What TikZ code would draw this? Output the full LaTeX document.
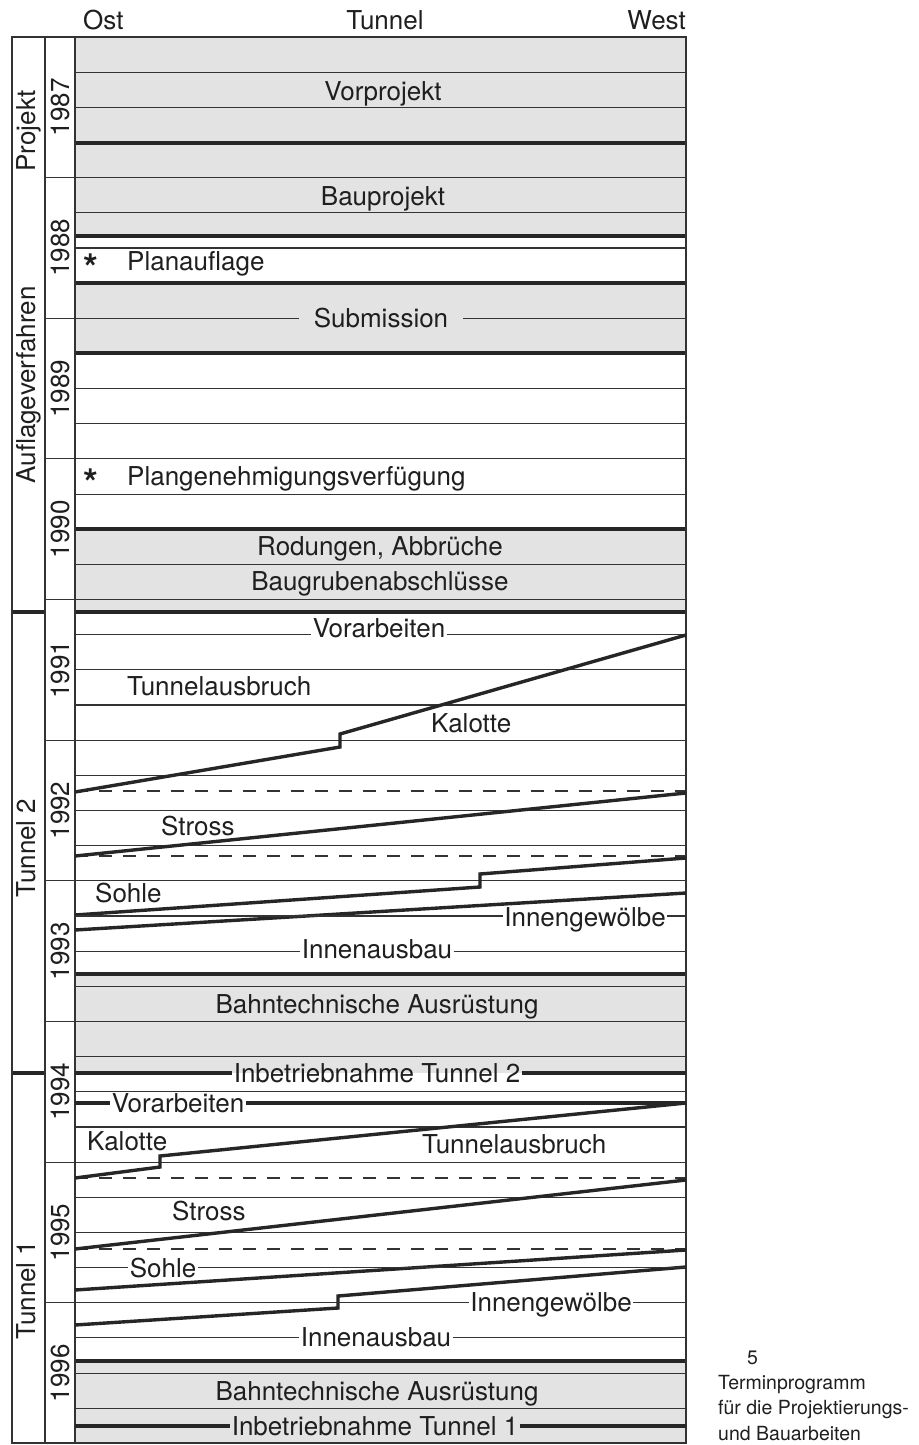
\documentclass[tikz,border=0pt]{standalone}
\usepackage{fontspec}
\setmainfont{TeX Gyre Heros}
\begin{document}
\begin{tikzpicture}[x=1pt,y=-1pt,
  gridline/.style={line width=1.1pt, draw=black!80},
  heavyline/.style={line width=3.4pt, draw=black!85},
  frameline/.style={line width=1.4pt, draw=black!80},
  dashline/.style={line width=1.1pt, draw=black!80, dash pattern=on 13pt off 11pt},
  shade/.style={fill=black!11, draw=none},
  lbl/.style={font=\fontsize{26}{30}\selectfont, text=black!88, inner sep=0pt, anchor=base},
  online/.style={lbl, inner xsep=1.5pt},
  yearlbl/.style={font=\fontsize{26}{30}\selectfont, text=black!88, inner sep=0pt, rotate=90, anchor=center},
  phaselbl/.style={font=\fontsize{26}{30}\selectfont, text=black!88, inner sep=0pt, rotate=90, anchor=base},
  star/.style={font=\fontsize{38}{38}\selectfont\bfseries, text=black!88, inner sep=0pt, anchor=base},
  capt/.style={font=\fontsize{19.5}{22}\selectfont, text=black!88, inner sep=0pt, anchor=base west},
]
\useasboundingbox (0,0) rectangle (918,1445);
\fill[white] (0,0) rectangle (918,1445);
\def\qh{35.16}

% shaded bands
\fill[shade] (75,37) rectangle (686,236);
\fill[shade] (75,283) rectangle (686,353);
\fill[shade] (75,529) rectangle (686,612);
\fill[shade] (75,974) rectangle (686,1073);
\fill[shade] (75,1361) rectangle (686,1443);

% quarter grid lines
\foreach \q in {1,2,4,5,6,10,11,12,13,15,16,18,19,20,21,22,23,24,27,28,29,30,31,32,33,34,38,39}
  \draw[gridline] (75,{37+\q*\qh}) -- (686,{37+\q*\qh});

% heavy lines
\foreach \yy in {143,236,283,353,529,612,974,1361}
  \draw[heavyline] (75,\yy) -- (686,\yy);

% year column separators
\foreach \k in {1,...,9}
  \draw[gridline] (45,{37+\k*4*\qh}) -- (75,{37+\k*4*\qh});

% phase separators
\draw[heavyline] (12,612) -- (45,612);
\draw[heavyline] (12,1073) -- (45,1073);

% frame
\draw[frameline] (12,37) rectangle (686,1443);
\draw[frameline] (45,37) -- (45,1443);
\draw[frameline] (75,37) -- (75,1443);

% header
\node[lbl, anchor=base west] (ost) at (83,30) {Ost};
\node[lbl] (tun) at (385,30) {Tunnel};
\node[lbl, anchor=base east] (west) at (686,30) {West};

% year labels
\foreach \yr [count=\i from 0] in {1987,1988,1989,1990,1991,1992,1993,1994,1995,1996}
  \node[yearlbl] (y\yr) at (60,{37+(\i*4+2)*\qh}) {\yr};

% phase labels
\node[phaselbl] (pProjekt) at (35,131) {Projekt};
\node[phaselbl] (pAuflage) at (35,385) {Auflageverfahren};
\node[phaselbl] (pT2) at (35,848) {Tunnel 2};
\node[phaselbl] (pT1) at (35,1290) {Tunnel 1};

% ---------------- Projekt / Auflage
\node[lbl] (vorprojekt) at (383,100) {Vorprojekt};
\node[lbl] (bauprojekt) at (383,205) {Bauprojekt};
\node[star] (st1) at (91,281) {*};
\node[lbl, anchor=base west] (planauflage) at (127,270) {Planauflage};

\coordinate (subL) at (75,{37+8*\qh});
\coordinate (subR) at (686,{37+8*\qh});
\node[lbl, inner xsep=15pt] (submission) at (381,327) {Submission};
\draw[gridline] (subL) -- (subL -| submission.west);
\draw[gridline] (submission.east |- subR) -- (subR);

\node[star] (st2) at (91,496) {*};
\node[lbl, anchor=base west] (plangen) at (127,485) {Plangenehmigungsverfügung};
\node[lbl] (rodungen) at (380,555) {Rodungen, Abbrüche};
\node[lbl] (baugruben) at (380,590) {Baugrubenabschlüsse};

% ---------------- Tunnel 2
\coordinate (v2L) at (75,{37+17*\qh});
\coordinate (v2R) at (686,{37+17*\qh});
\node[online] (vor2) at (379,637) {Vorarbeiten};
\draw[gridline] (v2L) -- (v2L -| vor2.west);
\draw[gridline] (vor2.east |- v2R) -- (v2R);

\node[lbl, anchor=base west] (ausbruch2) at (127,695) {Tunnelausbruch};
\node[lbl, anchor=base west] (kalotte2) at (431,732) {Kalotte};
\node[lbl, anchor=base west] (stross2) at (161,835) {Stross};
\node[lbl, anchor=base west] (sohle2) at (95,902) {Sohle};

\draw[dashline] (75,791) -- (686,791);
\draw[dashline] (75,856) -- (686,856);

\coordinate (k2a) at (75,792);
\coordinate (k2b) at (340,747);
\coordinate (k2c) at (340,734);
\coordinate (k2d) at (686,635);
\draw[heavyline] (k2a) -- (k2b) -- (k2c) -- (k2d);

\coordinate (s2a) at (75,856);
\coordinate (s2b) at (686,793);
\draw[heavyline] (s2a) -- (s2b);

\coordinate (so2a) at (75,915);
\coordinate (so2b) at (480,887);
\coordinate (so2c) at (480,874);
\coordinate (so2d) at (686,858);
\draw[heavyline] (so2a) -- (so2b) -- (so2c) -- (so2d);

\coordinate (ig2a) at (75,930);
\coordinate (ig2b) at (686,893);
\draw[heavyline] (ig2a) -- (ig2b);

\coordinate (g2L) at (75,{37+25*\qh});
\coordinate (g2R) at (686,{37+25*\qh});
\node[online] (innengew2) at (585,926) {Innengewölbe};
\draw[gridline] (g2L) -- (g2L -| innengew2.west);
\draw[gridline] (innengew2.east |- g2R) -- (g2R);

\coordinate (a2L) at (75,{37+26*\qh});
\coordinate (a2R) at (686,{37+26*\qh});
\node[online] (innenaus2) at (377,958) {Innenausbau};
\draw[gridline] (a2L) -- (a2L -| innenaus2.west);
\draw[gridline] (innenaus2.east |- a2R) -- (a2R);

\node[lbl] (bahn2) at (377,1013) {Bahntechnische Ausrüstung};

\coordinate (i2L) at (75,1073);
\coordinate (i2R) at (686,1073);
\node[online] (inbetr2) at (377,1082) {Inbetriebnahme Tunnel 2};
\draw[heavyline] (i2L) -- (i2L -| inbetr2.west);
\draw[heavyline] (inbetr2.east |- i2R) -- (i2R);

% ---------------- Tunnel 1
\coordinate (v1L) at (75,1103);
\coordinate (v1R) at (686,1103);
\node[online] (vor1) at (178,1112) {Vorarbeiten};
\draw[heavyline] (v1L) -- (v1L -| vor1.west);
\draw[heavyline] (vor1.east |- v1R) -- (v1R);

\node[lbl, anchor=base west] (kalotte1) at (87,1150) {Kalotte};
\node[lbl, anchor=base west] (ausbruch1) at (422,1153) {Tunnelausbruch};
\node[lbl, anchor=base west] (stross1) at (172,1220) {Stross};

\draw[dashline] (75,1178) -- (686,1178);
\draw[dashline] (75,1249) -- (686,1249);

\coordinate (k1a) at (686,1103);
\coordinate (k1b) at (160,1156);
\coordinate (k1c) at (160,1167);
\coordinate (k1d) at (75,1178);
\draw[heavyline] (k1a) -- (k1b) -- (k1c) -- (k1d);

\coordinate (s1a) at (75,1249);
\coordinate (s1b) at (686,1180);
\draw[heavyline] (s1a) -- (s1b);

\coordinate (so1a) at (75,1290);
\coordinate (so1b) at (686,1250);
\draw[heavyline] (so1a) -- (so1b);

\coordinate (ig1a) at (75,1325);
\coordinate (ig1b) at (338,1308);
\coordinate (ig1c) at (338,1296);
\coordinate (ig1d) at (686,1267);
\draw[heavyline] (ig1a) -- (ig1b) -- (ig1c) -- (ig1d);

\coordinate (h1L) at (75,{37+35*\qh});
\coordinate (h1R) at (686,{37+35*\qh});
\node[online] (sohle1) at (163,1277) {Sohle};
\draw[gridline] (h1L) -- (h1L -| sohle1.west);
\draw[gridline] (sohle1.east |- h1R) -- (h1R);

\coordinate (g1L) at (75,{37+36*\qh});
\coordinate (g1R) at (686,{37+36*\qh});
\node[online] (innengew1) at (551,1311) {Innengewölbe};
\draw[gridline] (g1L) -- (g1L -| innengew1.west);
\draw[gridline] (innengew1.east |- g1R) -- (g1R);

\coordinate (a1L) at (75,{37+37*\qh});
\coordinate (a1R) at (686,{37+37*\qh});
\node[online] (innenaus1) at (376,1346) {Innenausbau};
\draw[gridline] (a1L) -- (a1L -| innenaus1.west);
\draw[gridline] (innenaus1.east |- a1R) -- (a1R);

\node[lbl] (bahn1) at (377,1400) {Bahntechnische Ausrüstung};

\coordinate (i1L) at (75,1426);
\coordinate (i1R) at (686,1426);
\node[online] (inbetr1) at (375,1435) {Inbetriebnahme Tunnel 1};
\draw[heavyline] (i1L) -- (i1L -| inbetr1.west);
\draw[heavyline] (inbetr1.east |- i1R) -- (i1R);

% caption
\node[capt] (c5) at (747,1364) {5};
\node[capt] (c1) at (718,1389) {Terminprogramm};
\node[capt] (c2) at (718,1414) {für die Projektierungs-};
\node[capt] (c3) at (718,1440) {und Bauarbeiten};
\end{tikzpicture}
\end{document}
